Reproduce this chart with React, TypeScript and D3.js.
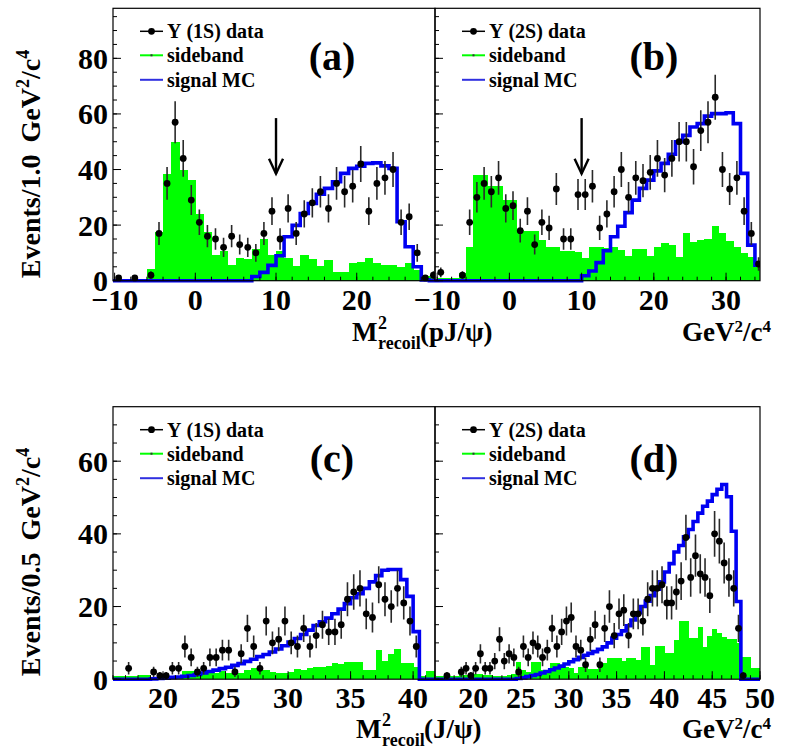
import React from "react";
import * as d3 from "d3";

// ---- Upper row: 1.0 GeV^2/c^4 bins starting at -10 ----
const dataA = [1, 0, 1, 0, 2, 17, 35, 57, 44, 29, 21, 16, 15, 12, 16, 13, 12, 10, 17, 25, 15, 26, 17, 24, 28, 32, 26, 35, 32, 34, 42, 25, 35, 37, 40, 21, 23, 10, 1, 2];
const sideA = [0, 0.7, 0.7, 0.6, 4.2, 17.5, 38.5, 50, 40, 36.4, 24, 17.5, 9.3, 10.8, 5.7, 8.1, 7.7, 11.3, 14.9, 9.2, 10.8, 8, 5.3, 9.2, 7.7, 5.3, 7.4, 3.2, 3.2, 6.2, 6.8, 8.3, 6.5, 5.6, 5.6, 5, 6.2, 3.8, 1.7, 1.4];
const mcA = [0, 0, 0, 0, 0, 0, 0, 0, 0, 0, 0, 0, 0, 0, 0, 0, 0, 1.5, 3, 5.5, 9, 15.8, 19.9, 24.2, 27.8, 31.1, 33.2, 35.6, 38.6, 40.4, 41.2, 42.2, 42.4, 41.3, 40.4, 21.2, 12.2, 5, 0.3, 0];

const dataB = [3, 0, 0, 2, 21, 30, 35, 32, 37, 26, 27, 18, 25, 13, 21, 19, 33, 15, 15, 31, 31, 34, 19, 24, 32, 40, 30, 37, 36, 39, 44, 38, 44, 50, 50, 41, 54, 57, 66, 40, 33, 37, 25, 17, 6];
const sideB = [1, 1, 1, 2.9, 12, 38, 38, 34, 34, 29, 29, 18.4, 18, 18, 14.8, 12, 12, 10.8, 10.8, 10.5, 8, 12, 12, 11.6, 12, 11, 9, 11.5, 11.5, 9, 12, 13.4, 13, 8.4, 17, 14, 14.6, 15, 19.6, 17, 14.4, 12, 10, 8.4, 6.2];
const mcB = [0, 0, 0, 0, 0, 0, 0, 0, 0, 0, 0, 0, 0, 0, 0, 0, 0, 0, 0, 0, 1.8, 3.5, 6.5, 10.8, 15.8, 19.6, 24.5, 29, 33.2, 36.2, 39.5, 42.2, 45.5, 50, 52.3, 55.3, 56.5, 59.2, 60.1, 60.1, 60.4, 56.5, 38.6, 12.8, 5.6];

// ---- Lower row: 0.5 GeV^2/c^4 bins starting at 16 ----
const dataC = [0, 0, 3, 0, 0, 0, 2, 1, 1, 3, 3, 9, 6, 2, 3, 6, 6, 8, 8, 2, 7, 14, 9, 3, 16, 10, 11, 16, 10, 9, 14, 9, 12, 15, 13, 13, 15, 22, 24, 25, 18, 17, 26, 22, 20, 25, 21, 16, 9, 0, 0, 0];
const sideC = [0.8, 0.8, 0.9, 1.0, 1.1, 1.1, 0.7, 0.7, 0.9, 0.9, 0.9, 2.3, 2.3, 1.6, 1.6, 1.6, 1.6, 2.3, 1.8, 1.8, 1.8, 2.5, 3.0, 2.7, 2.4, 2.0, 1.6, 1.7, 2.1, 2.7, 2.6, 3.0, 3.3, 3.4, 3.7, 4.5, 4.3, 4.8, 4.8, 4.8, 2.5, 2.5, 7.9, 5, 7, 8.2, 4.4, 4.4, 3.4, 1, 2.3, 2.3];
const mcC = [0, 0, 0, 0, 0, 0, 0.1, 0.2, 0.3, 0.5, 0.6, 0.8, 1.0, 1.3, 1.7, 2.1, 2.5, 2.9, 3.3, 3.8, 4.3, 4.9, 5.5, 6.2, 6.8, 7.5, 8.3, 9.2, 10.2, 11.2, 12.3, 13.5, 14.8, 15.8, 16.8, 18.0, 19.3, 20.8, 22.4, 23.5, 25.0, 26.8, 28.5, 30.0, 30.2, 30.2, 27.4, 22.8, 13.1, 0, 0, 0];

const dataD = [0, 0, 1, 0, 0, 2, 3, 1, 3, 7, 3, 3, 5, 11, 5, 7, 6, 2, 9, 6, 10, 9, 6, 8, 14, 9, 13, 16, 17, 9, 8, 4, 11, 15, 4, 14, 20, 12, 18, 19, 12, 18, 18, 16, 22, 25, 25, 26, 21, 21, 24, 27, 39, 28, 34, 29, 28, 23, 40, 38, 32, 28, 25, 14, 1, 0, 0, 0];
const sideD = [0.9, 0.9, 0.9, 0.9, 0.9, 1.1, 1.1, 1.3, 1.4, 1.4, 1.2, 1.1, 1.0, 0.9, 0.9, 1.2, 1.4, 4.6, 2.5, 2.0, 4.6, 4.6, 2.5, 2.5, 4.4, 4.4, 3.4, 3.4, 3.0, 1.6, 3.3, 3.3, 2.7, 2.7, 4.4, 4.4, 5.7, 5.7, 5.7, 5.1, 5.7, 5.7, 5.2, 9, 9, 3.9, 9.2, 9.2, 7.1, 7.1, 10.8, 15.9, 15.9, 11.3, 11.3, 14.3, 9, 12, 13.8, 12.6, 11.7, 11, 11, 10, 6.2, 6.2, 3, 3];
const mcD = [0, 0, 0, 0, 0, 0, 0, 0, 0, 0, 0, 0, 0, 0, 0, 0, 0, 0.2, 0.4, 0.7, 1.0, 1.3, 1.7, 2.1, 2.6, 3.1, 3.6, 4.2, 4.8, 5.4, 6.0, 6.6, 7.1, 7.6, 8.2, 8.9, 10, 11.3, 12.3, 13.3, 14.7, 16.3, 18.3, 20, 21.5, 23, 24.8, 26.8, 29.5, 31.8, 35, 36.8, 39.2, 41.2, 43.4, 45.7, 47.6, 49.0, 50.8, 52.3, 53.6, 50.2, 40.7, 21.4, 0, 0, 0, 0];

// ---- Axis ticks ----
const xTicksTop = [-10, 0, 10, 20, 30];
const xTicksBottom = [20, 25, 30, 35, 40, 45, 50];
const yTicksTop = [0, 20, 40, 60, 80];
const yTicksBottom = [0, 20, 40, 60];

// cut position marked by the arrow: [x, y start, y tip]
const cutArrow = [10, 58.5, 38.5];

const FONT = "'Liberation Serif', 'Times New Roman', serif";
const BLUE = "#0000f2";
const GREEN = "#00ff00";

type Spec = {
  id: string;
  left: number; right: number; top: number; bottom: number;
  xDomain: [number, number]; yMax: number;
  binLow: number; binWidth: number;
  data: number[]; side: number[]; mc: number[];
  xTicks: number[]; xMinor: number;
  yTicks: number[]; yMinor: number;
  yLabels: boolean;
  tag: string; tagDy: number;
  legendLabel: string;
  arrow?: number[];
};

const fmt = (v: number) => (v < 0 ? "\u2212" + Math.abs(v) : String(v));

function Panel({ s }: { s: Spec }) {
  const x = d3.scaleLinear().domain(s.xDomain).range([s.left, s.right]);
  const y = d3.scaleLinear().domain([0, s.yMax]).range([s.bottom, s.top]);
  const clipId = `clip-${s.id}`;
  const lo = (i: number) => s.binLow + i * s.binWidth;
  const n = s.mc.length;

  const steps: [number, number][] = [[s.xDomain[0], 0]];
  s.mc.forEach((v, i) => steps.push([lo(i), v]));
  steps.push([lo(n), s.mc[n - 1]]);
  const stepLine = d3
    .line<[number, number]>()
    .x((d) => x(d[0]))
    .y((d) => y(d[1]))
    .curve(d3.curveStepAfter);

  const [x0, x1] = s.xDomain;
  const xMinor = d3.range(Math.ceil(x0 / s.xMinor) * s.xMinor, x1 + 1e-6, s.xMinor);
  const xMajor = s.xTicks.filter((t) => t >= x0 - 1e-6 && t <= x1 + 1e-6);
  const yMinor = d3.range(0, s.yMax, s.yMinor);

  const lx = s.left + 27;
  const rows = [23, 47, 71.5].map((d) => s.top + d);

  return (
    <g>
      <defs>
        <clipPath id={clipId}>
          <rect x={s.left} y={s.top} width={s.right - s.left} height={s.bottom - s.top + 3} />
        </clipPath>
      </defs>
      <g clipPath={`url(#${clipId})`}>
        {s.side.map((v, i) =>
          v > 0 ? (
            <rect
              key={i}
              x={x(lo(i))}
              y={y(v)}
              width={x(lo(i + 1)) - x(lo(i)) + 0.4}
              height={y(0) - y(v)}
              fill={GREEN}
              shapeRendering="crispEdges"
            />
          ) : null
        )}
        <path d={stepLine(steps) || ""} fill="none" stroke={BLUE} strokeWidth={3.6} strokeLinejoin="miter" />
        {s.data.map((v, i) => {
          if (v <= 0) return null;
          const cx = x(lo(i) + s.binWidth / 2);
          const e = Math.sqrt(v);
          return (
            <g key={i}>
              <line x1={cx} x2={cx} y1={y(v - e)} y2={y(v + e)} stroke="#2a2a2a" strokeWidth={1.6} />
              <circle cx={cx} cy={y(v)} r={3.4} fill="#000" />
            </g>
          );
        })}
      </g>

      {/* frame */}
      <rect x={s.left} y={s.top} width={s.right - s.left} height={s.bottom - s.top} fill="none" stroke="#000" strokeWidth={1.2} />

      {/* x ticks */}
      {xMinor.map((t) => (
        <line key={"xm" + t} x1={x(t)} x2={x(t)} y1={s.bottom} y2={s.bottom - 4} stroke="#000" strokeWidth={1} />
      ))}
      {xMajor.map((t) => (
        <line key={"xM" + t} x1={x(t)} x2={x(t)} y1={s.bottom} y2={s.bottom - 8} stroke="#000" strokeWidth={1} />
      ))}
      {xMajor.map((t) => (
        <text key={"xl" + t} x={x(t)} y={s.bottom + 29} textAnchor="middle" fontSize={30} fontWeight="bold" fontFamily={FONT}>
          {fmt(t)}
        </text>
      ))}

      {/* y ticks */}
      {yMinor.map((t) => (
        <line key={"ym" + t} x1={s.left} x2={s.left + 4} y1={y(t)} y2={y(t)} stroke="#000" strokeWidth={1} />
      ))}
      {s.yTicks.map((t) => (
        <line key={"yM" + t} x1={s.left} x2={s.left + 8} y1={y(t)} y2={y(t)} stroke="#000" strokeWidth={1} />
      ))}
      {s.yLabels &&
        s.yTicks.map((t) => (
          <text key={"yl" + t} x={s.left - 5} y={y(t) + 10.5} textAnchor="end" fontSize={30} fontWeight="bold" fontFamily={FONT}>
            {fmt(t)}
          </text>
        ))}

      {/* legend */}
      <line x1={lx} x2={lx + 23} y1={rows[0]} y2={rows[0]} stroke="#000" strokeWidth={1.5} />
      <circle cx={lx + 11.5} cy={rows[0]} r={3.4} fill="#000" />
      <text x={lx + 27} y={rows[0] + 7} fontSize={20} fontWeight="bold" fontFamily={FONT}>
        {s.legendLabel}
      </text>
      <line x1={lx} x2={lx + 23} y1={rows[1]} y2={rows[1]} stroke={GREEN} strokeWidth={2} />
      <rect x={lx + 10.5} y={rows[1] - 1} width={2} height={2} fill="#333" />
      <text x={lx + 27} y={rows[1] + 7} fontSize={20} fontWeight="bold" fontFamily={FONT}>
        sideband
      </text>
      <line x1={lx} x2={lx + 23} y1={rows[2]} y2={rows[2]} stroke="#3030e0" strokeWidth={2} />
      <text x={lx + 27} y={rows[2] + 7} fontSize={20} fontWeight="bold" fontFamily={FONT}>
        signal MC
      </text>

      {/* panel tag */}
      <text x={s.left + 219} y={s.top + s.tagDy} textAnchor="middle" fontSize={40} fontWeight="bold" fontFamily={FONT}>
        {s.tag}
      </text>

      {/* cut arrow */}
      {s.arrow && (
        <g stroke="#000" strokeWidth={2.4} fill="none">
          <line x1={x(s.arrow[0])} x2={x(s.arrow[0])} y1={y(s.arrow[1])} y2={y(s.arrow[2])} />
          <polyline
            points={`${x(s.arrow[0]) - 7},${y(s.arrow[2]) - 15} ${x(s.arrow[0])},${y(s.arrow[2])} ${x(s.arrow[0]) + 7},${y(s.arrow[2]) - 15}`}
          />
        </g>
      )}
    </g>
  );
}

const TOP = { top: 8.3, bottom: 280.7 };
const BOT = { top: 406.7, bottom: 679.2 };

const panels: Spec[] = [
  {
    id: "a", left: 113, right: 435, ...TOP, xDomain: [-10.2, 29.7], yMax: 98,
    binLow: -10, binWidth: 1, data: dataA, side: sideA, mc: mcA,
    xTicks: xTicksTop, xMinor: 2, yTicks: yTicksTop, yMinor: 5, yLabels: true,
    tag: "(a)", tagDy: 62, legendLabel: "\u03a5 (1S) data", arrow: cutArrow,
  },
  {
    id: "b", left: 435, right: 760, ...TOP, xDomain: [-10.3, 34.7], yMax: 98,
    binLow: -10, binWidth: 1, data: dataB, side: sideB, mc: mcB,
    xTicks: xTicksTop, xMinor: 2, yTicks: yTicksTop, yMinor: 5, yLabels: false,
    tag: "(b)", tagDy: 62, legendLabel: "\u03a5 (2S) data", arrow: cutArrow,
  },
  {
    id: "c", left: 113, right: 435, ...BOT, xDomain: [16, 41.75], yMax: 75,
    binLow: 16, binWidth: 0.5, data: dataC, side: sideC, mc: mcC,
    xTicks: xTicksBottom, xMinor: 1, yTicks: yTicksBottom, yMinor: 5, yLabels: true,
    tag: "(c)", tagDy: 65, legendLabel: "\u03a5 (1S) data",
  },
  {
    id: "d", left: 435, right: 760, ...BOT, xDomain: [16, 50], yMax: 75,
    binLow: 16, binWidth: 0.5, data: dataD, side: sideD, mc: mcD,
    xTicks: xTicksBottom, xMinor: 1, yTicks: yTicksBottom, yMinor: 5, yLabels: false,
    tag: "(d)", tagDy: 65, legendLabel: "\u03a5 (2S) data",
  },
];

function YTitle({ cx, cy, bin }: { cx: number; cy: number; bin: string }) {
  return (
    <text transform={`translate(${cx},${cy}) rotate(-90)`} textAnchor="middle" fontSize={28} fontWeight="bold" fontFamily={FONT}>
      {`Events/${bin}`}
      <tspan dx={12}>GeV</tspan>
      <tspan dy={-11} fontSize={18}>2</tspan>
      <tspan dy={11}>/c</tspan>
      <tspan dy={-11} fontSize={18}>4</tspan>
    </text>
  );
}

function XTitle({ x0, base, inner }: { x0: number; base: number; inner: string }) {
  return (
    <g fontFamily={FONT} fontWeight="bold">
      <text x={x0} y={base} fontSize={27}>M</text>
      <text x={x0 + 26} y={base - 12} fontSize={18}>2</text>
      <text x={x0 + 26} y={base + 8} fontSize={18}>recoil</text>
      <text x={x0 + 68} y={base} fontSize={27}>{inner}</text>
    </g>
  );
}

function Units({ x0, base }: { x0: number; base: number }) {
  return (
    <text x={x0} y={base} fontSize={27} fontWeight="bold" fontFamily={FONT}>
      GeV
      <tspan dy={-9} fontSize={17}>2</tspan>
      <tspan dy={9}>/c</tspan>
      <tspan dy={-9} fontSize={17}>4</tspan>
    </text>
  );
}

export default function App() {
  return (
    <svg
      width={795}
      height={750}
      viewBox="0 0 795 750"
      style={{ position: "absolute", left: 0, top: 0, background: "#fff" }}
    >
      <rect width={795} height={750} fill="#fff" />
      {panels.map((p) => (
        <Panel key={p.id} s={p} />
      ))}
      <YTitle cx={40} cy={164} bin="1.0" />
      <YTitle cx={40} cy={562} bin="0.5" />
      <XTitle x0={352} base={341} inner={"(pJ/\u03c8)"} />
      <Units x0={682} base={341} />
      <XTitle x0={356} base={738} inner={"(J/\u03c8)"} />
      <Units x0={682} base={738} />
    </svg>
  );
}
